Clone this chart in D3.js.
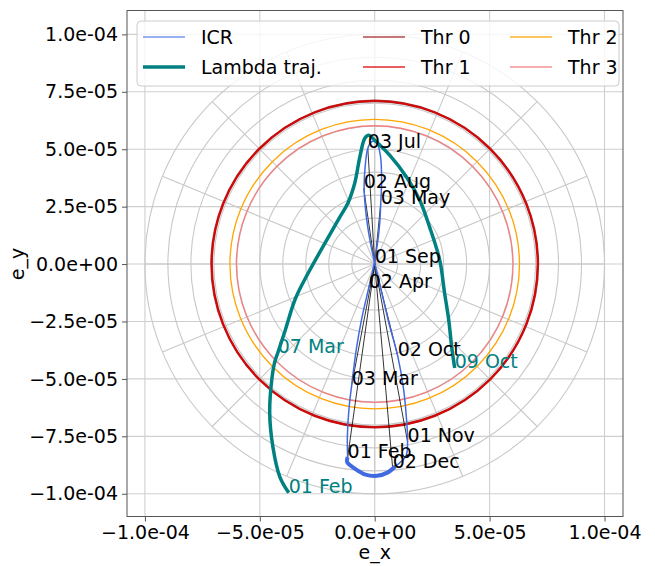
<!DOCTYPE html>
<html>
<head>
<meta charset="utf-8">
<script src="https://cdn.jsdelivr.net/npm/d3@7"></script>
<style>
  body { margin: 0; background: #fff; }
  svg { font-family: "DejaVu Sans", sans-serif; }
</style>
</head>
<body>
<div id="chart"></div>
<script>
// data (values in e-5, converted once below)
const icrPath = [
  [-1.18,-8.40],[-1.19,-7.50],[-1.12,-6.30],[-1.00,-5.26],[-0.80,-3.70],[-0.55,-2.30],
  [-0.26,-1.04],[-0.05,-0.10],[0.12,0.90],[0.22,1.80],[0.26,2.61],[0.30,3.70],
  [0.25,4.70],[0.08,5.30],[-0.15,5.32],[-0.30,5.04],[-0.42,4.20],[-0.46,3.30],
  [-0.38,2.20],[-0.20,1.00],[0.00,0.04],[0.25,-1.00],[0.60,-2.50],[1.00,-4.00],
  [1.25,-5.40],[1.38,-6.70],[1.43,-7.74],[1.36,-8.35],[0.90,-8.80]
]
const icrWinter = [
  [0.90,-8.80],[0.55,-9.08],[0.10,-9.22],[-0.40,-9.17],[-0.85,-8.92],[-1.20,-8.62],[-1.18,-8.40]
]
const icrDates = ["01 Feb","03 Mar","02 Apr","03 May","03 Jul","02 Aug","01 Sep","02 Oct","01 Nov","02 Dec"]
const icrDateX = [-1.18,-1.00,-0.26,0.26,-0.30,-0.48,0.00,1.00,1.43,0.78]
const icrDateY = [-8.43,-5.26,-1.04,2.61,5.04,3.30,0.04,-4.00,-7.74,-8.87]

const lambdaPath = [
  [-3.74,-9.96],[-4.13,-9.26],[-4.43,-7.96],[-4.57,-6.48],[-4.48,-5.04],[-4.35,-4.26],
  [-4.22,-3.87],[-3.90,-2.90],[-3.45,-1.50],[-2.90,-0.40],[-2.09,1.04],[-1.52,2.04],
  [-1.17,2.65],[-0.87,3.52],[-0.65,4.65],[-0.43,5.48],[-0.26,5.61],[0.00,5.39],
  [0.65,4.74],[1.39,3.78],[1.96,2.78],[2.39,1.61],[2.83,0.17],[3.04,-1.26],
  [3.22,-2.43],[3.35,-3.61],[3.48,-4.52]
]
const lambdaDates = ["01 Feb","07 Mar","09 Oct"]
const lambdaDateIdx = [0, 6, 26]

const thrNames = ["Thr 0","Thr 1","Thr 2","Thr 3"]
const thrRadius = [7.1, 7.1, 6.3, 6.02]
const thrColors = ["#a52a2a","#e00000","#ffa500","#f08080"]
const thrWidths = [2.6, 1.4, 1.3, 1.3]

const gridRings = [1,2,3,4,5,6,7,8,9,10]
const xTicks = [-1e-4,-5e-5,0,5e-5,1e-4]
const yTicks = [-1e-4,-7.5e-5,-5e-5,-2.5e-5,0,2.5e-5,5e-5,7.5e-5,1e-4]

const E = 1e-5
const icrColor = "#4169e1", lambdaColor = "#008080"

// layout
const W = 655, H = 566
const margin = {top: 10.5, left: 127, right: 32, bottom: 49.5}
const width = W - margin.left - margin.right
const height = H - margin.top - margin.bottom

const svg = d3.select("#chart").append("svg")
    .attr("width", W).attr("height", H)
const g = svg.append("g")
    .attr("transform", `translate(${margin.left},${margin.top})`)

const x = d3.scaleLinear().domain([-1.078e-4, 1.0805e-4]).range([0, width])
const y = d3.scaleLinear().domain([-1.099e-4, 1.104e-4]).range([height, 0])

g.append("clipPath").attr("id", "clip")
  .append("rect").attr("width", width).attr("height", height)

const plot = g.append("g").attr("clip-path", "url(#clip)")

// rectangular grid
plot.selectAll(".gx").data(xTicks).join("line")
    .attr("x1", d => x(d)).attr("x2", d => x(d))
    .attr("y1", 0).attr("y2", height)
    .attr("stroke", "#cfcfcf").attr("stroke-width", 1.1)
plot.selectAll(".gy").data(yTicks).join("line")
    .attr("class", "gy")
    .attr("y1", d => y(d)).attr("y2", d => y(d))
    .attr("x1", 0).attr("x2", width)
    .attr("stroke", "#cfcfcf").attr("stroke-width", 1.1)

// polar grid
const cx = x(0), cy = y(0), pxPer = x(E) - x(0)
plot.selectAll(".ring").data(gridRings).join("circle")
    .attr("class", "ring")
    .attr("cx", cx).attr("cy", cy).attr("r", d => d * pxPer)
    .attr("fill", "none").attr("stroke", "#c8c8c8").attr("stroke-width", 1.1)
const spokes = d3.range(16).map(i => i * Math.PI / 8)
plot.selectAll(".spoke").data(spokes).join("line")
    .attr("class", "spoke")
    .attr("x1", cx).attr("y1", cy)
    .attr("x2", a => x(10 * E * Math.cos(a))).attr("y2", a => y(10 * E * Math.sin(a)))
    .attr("stroke", "#c8c8c8").attr("stroke-width", 1.1)

// thresholds
plot.selectAll(".thr").data(thrRadius).join("circle")
    .attr("class", "thr")
    .attr("cx", cx).attr("cy", cy).attr("r", d => d * pxPer)
    .attr("fill", "none")
    .attr("stroke", (d, i) => thrColors[i])
    .attr("stroke-width", (d, i) => thrWidths[i])

// radial lines to ICR dates
plot.selectAll(".ray").data(icrDates).join("line")
    .attr("class", "ray")
    .attr("x1", cx).attr("y1", cy)
    .attr("x2", (d, i) => x(icrDateX[i] * E)).attr("y2", (d, i) => y(icrDateY[i] * E))
    .attr("stroke", "#000").attr("stroke-width", 0.8)

const line = d3.line()
    .x(d => x(d[0] * E)).y(d => y(d[1] * E))
    .curve(d3.curveCatmullRom)

plot.append("path").datum(icrPath)
    .attr("d", line).attr("fill", "none")
    .attr("stroke", icrColor).attr("stroke-width", 1.5)
plot.append("path").datum(icrWinter)
    .attr("d", line).attr("fill", "none")
    .attr("stroke", icrColor).attr("stroke-width", 4)
    .attr("stroke-linejoin", "round")

plot.append("path").datum(lambdaPath)
    .attr("d", line).attr("fill", "none")
    .attr("stroke", lambdaColor).attr("stroke-width", 3.5)
    .attr("stroke-linecap", "butt")

// date labels
plot.selectAll(".icrLab").data(icrDates).join("text")
    .attr("x", (d, i) => x(icrDateX[i] * E)).attr("y", (d, i) => y(icrDateY[i] * E))
    .attr("font-size", 19).attr("fill", "#000")
    .text(d => d)
plot.selectAll(".lamLab").data(lambdaDates).join("text")
    .attr("x", (d, i) => x(lambdaPath[lambdaDateIdx[i]][0] * E))
    .attr("y", (d, i) => y(lambdaPath[lambdaDateIdx[i]][1] * E))
    .attr("font-size", 19).attr("fill", lambdaColor)
    .text(d => d)

// legend
const legend = g.append("g").attr("transform", "translate(10,10.5)")
legend.append("rect")
    .attr("width", 482).attr("height", 65).attr("rx", 4)
    .attr("fill", "#fff").attr("fill-opacity", 0.8)
    .attr("stroke", "#cccccc").attr("stroke-width", 1)
const legItems = [
  {name: "ICR", color: icrColor, w: 1.5, op: 0.7, col: 0, row: 0},
  {name: "Lambda traj.", color: lambdaColor, w: 3.5, op: 1, col: 0, row: 1}
].concat(thrNames.map((n, i) => ({name: n, color: thrColors[i], w: 1.5, op: 0.85,
  col: 1 + Math.floor(i / 2), row: i % 2})))
const colX = [6, 226, 373]
const li = legend.selectAll(".li").data(legItems).join("g")
    .attr("transform", d => `translate(${colX[d.col]},${16 + d.row * 30})`)
li.append("line").attr("x1", 0).attr("x2", 42)
    .attr("stroke", d => d.color).attr("stroke-width", d => d.w)
    .attr("stroke-opacity", d => d.op)
li.append("text").attr("x", 58).attr("dy", "0.35em")
    .attr("font-size", 19).attr("fill", "#000")
    .text(d => d.name)

// frame
g.append("rect").attr("width", width).attr("height", height)
    .attr("fill", "none").attr("stroke", "#555").attr("stroke-width", 1)

// ticks
const fmt = v => {
  const s = d3.format(".1e")(v)
  return s.replace(/e([+-])(\d)$/, "e$10$2")
}
const xAx = d3.axisBottom(x).tickValues(xTicks).tickFormat(fmt).tickSize(5).tickPadding(4)
const yAx = d3.axisLeft(y).tickValues(yTicks).tickFormat(fmt).tickSize(5).tickPadding(4)
const xg = g.append("g").attr("transform", `translate(0,${height})`).call(xAx)
const yg = g.append("g").call(yAx)
for (const ag of [xg, yg]) {
  ag.select(".domain").remove()
  ag.selectAll("line").attr("stroke", "#555")
  ag.selectAll("text").attr("font-size", 19).attr("fill", "#000")
    .attr("font-family", "DejaVu Sans, sans-serif")
}

// axis labels
svg.append("text").attr("x", margin.left + x(0)).attr("y", 559)
    .attr("text-anchor", "middle").attr("font-size", 19).text("e_x")
svg.append("text").attr("transform", `translate(24,${margin.top + y(0)}) rotate(-90)`)
    .attr("text-anchor", "middle").attr("font-size", 19).text("e_y")
</script>
</body>
</html>
